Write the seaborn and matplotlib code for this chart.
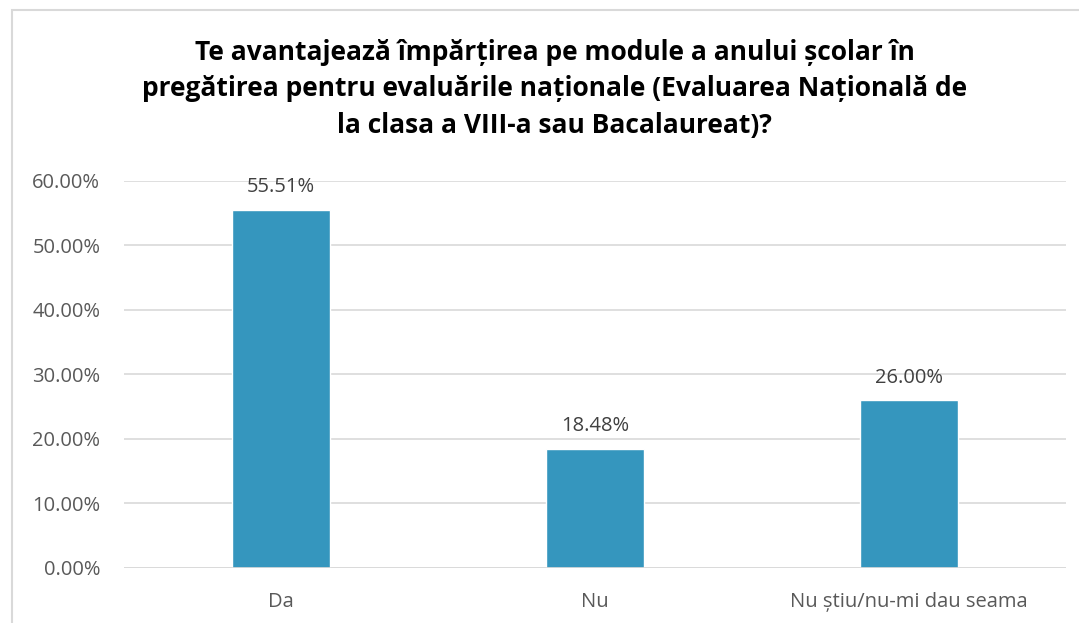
import matplotlib.pyplot as plt
import matplotlib.patches as mpatches
from matplotlib.ticker import FuncFormatter
import seaborn as sns
import pandas as pd

# chart data
categories = ['Da', 'Nu', 'Nu știu/nu-mi dau seama']
shares = [55.51, 18.48, 26.00]
y_ticks = [0, 10, 20, 30, 40, 50, 60]

title = ('Te avantajează împărțirea pe module a anului școlar în\n'
         'pregătirea pentru evaluările naționale (Evaluarea Națională de\n'
         'la clasa a VIII-a sau Bacalaureat)?')

sns.set_theme(style="white")
plt.rcParams['font.family'] = ['Open Sans', 'DejaVu Sans']

df = pd.DataFrame({'cat': categories, 'val': shares})

fig = plt.figure(figsize=(10.79, 6.23), dpi=100)
ax = fig.add_axes([0.1149, 0.0883, 0.8731, 0.6212])

sns.barplot(data=df, x='cat', y='val', color='#3596BE', width=0.31,
            saturation=1, ax=ax)

ax.set_ylim(0, 60)
ax.set_xlim(-0.5, 2.5)
ax.set_yticks(y_ticks)
ax.yaxis.set_major_formatter(FuncFormatter(lambda v, p: f'{v:.2f}%'))
ax.yaxis.grid(True, color='#D9D9D9', linewidth=1.2)
ax.set_axisbelow(True)
for s in ax.spines.values():
    s.set_visible(False)
ax.axhline(0, color='#D9D9D9', linewidth=1.2, zorder=1)
ax.tick_params(axis='both', length=0, labelsize=14.5, labelcolor='#595959')
ax.tick_params(axis='y', pad=17)
ax.tick_params(axis='x', pad=17)
ax.set_xlabel('')
ax.set_ylabel('')

for i, v in enumerate(shares):
    ax.annotate(f'{v:.2f}%', (i, v), xytext=(0, 9), textcoords='offset points',
                ha='center', va='bottom', fontsize=14.5, color='#404040')

fig.text(0.514, 0.938, title, ha='center', va='top', fontsize=19,
         fontweight='bold', color='black', linespacing=1.47)

# chart border
fig.patches.append(mpatches.Rectangle((12 / 1079, -0.01), 1.02, 1 - 10 / 623 + 0.01,
                                      transform=fig.transFigure, fill=False,
                                      edgecolor='#D9D9D9', linewidth=1.5))

fig.savefig('out.png', dpi=100)
